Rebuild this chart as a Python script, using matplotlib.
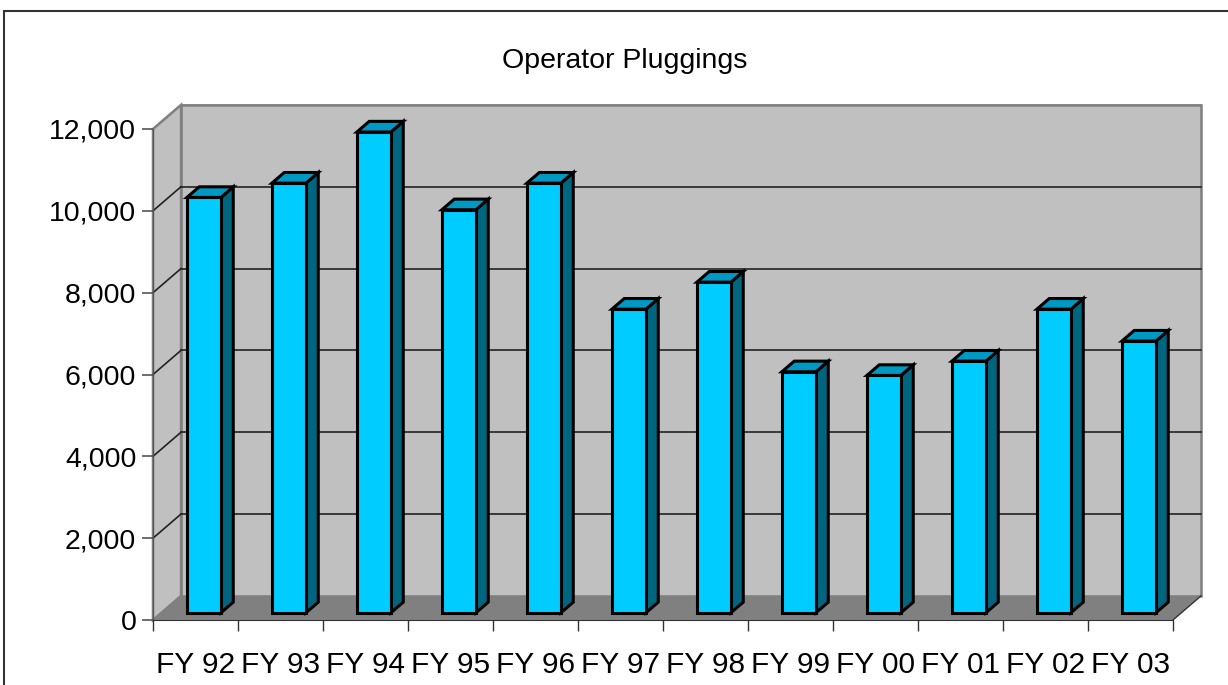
import matplotlib
matplotlib.use("Agg")
import matplotlib.pyplot as plt
from matplotlib.patches import Polygon, Rectangle

plt.rcParams['font.family'] = ['Liberation Sans', 'DejaVu Sans']

# data
categories = ['FY 92', 'FY 93', 'FY 94', 'FY 95', 'FY 96', 'FY 97',
              'FY 98', 'FY 99', 'FY 00', 'FY 01', 'FY 02', 'FY 03']
pluggings = [10150, 10500, 11750, 9850, 10500, 7420,
             8080, 5890, 5800, 6150, 7420, 6640]
y_ticks = [0, 2000, 4000, 6000, 8000, 10000, 12000]
y_max = 12000

# fake 3d depth, in data units
DX = 0.33      # category units
DY = 590.0     # value units
f0, f1 = 0.30, 0.74   # bar front / back depth
half_w = 0.2

front_col = '#00CCFF'
side_col = '#006680'
top_col = '#0099C4'
wall_col = '#C0C0C0'
floor_col = '#808080'
edge_gray = '#808080'

W, H = 1228, 685
fig = plt.figure(figsize=(W / 100, H / 100), dpi=100)
ax = fig.add_axes([153 / W, (H - 620) / H, (1173 - 153) / W, (620 - 129) / H])
n = len(categories)
x0, x1 = -0.5, n - 0.5
ax.set_xlim(x0, x1)
ax.set_ylim(0, y_max)
ax.patch.set_visible(False)

# walls and floor
back = Polygon([(x0 + DX, DY), (x1 + DX, DY), (x1 + DX, y_max + DY), (x0 + DX, y_max + DY)],
               closed=True, fc=wall_col, ec=edge_gray, lw=1.8, clip_on=False, zorder=1)
side = Polygon([(x0, 0), (x0 + DX, DY), (x0 + DX, y_max + DY), (x0, y_max)],
               closed=True, fc=wall_col, ec=edge_gray, lw=1.8, clip_on=False, zorder=1)
floor = Polygon([(x0, 0), (x1, 0), (x1 + DX, DY), (x0 + DX, DY)],
                closed=True, fc=floor_col, ec='none', clip_on=False, zorder=1.5)
for p in (back, side, floor):
    ax.add_patch(p)
ax.plot([x1, x1 + DX], [0, DY], color='#333333', lw=1, clip_on=False, zorder=1.6)

# gridlines on back and side wall
for v in y_ticks[1:]:
    c = '#222222' if v < y_max else edge_gray
    ax.plot([x0 + DX, x1 + DX], [v + DY, v + DY], color=c, lw=1.2, clip_on=False, zorder=1.2)
    ax.plot([x0, x0 + DX], [v, v + DY], color=c, lw=1.2, clip_on=False, zorder=1.2)

# bars
for i, v in enumerate(pluggings):
    l = i - half_w
    r = i + half_w
    a, b = f0 * DX, f1 * DX
    ya, yb = f0 * DY, f1 * DY
    front = Polygon([(l + a, ya), (r + a, ya), (r + a, v + ya), (l + a, v + ya)],
                    closed=True, fc=front_col, ec='black', lw=2.2, zorder=3, clip_on=False)
    rside = Polygon([(r + a, ya), (r + b, yb), (r + b, v + yb), (r + a, v + ya)],
                    closed=True, fc=side_col, ec='black', lw=2.2, zorder=3, clip_on=False)
    top = Polygon([(l + a, v + ya), (r + a, v + ya), (r + b, v + yb), (l + b, v + yb)],
                  closed=True, fc=top_col, ec='black', lw=2.2, zorder=3, clip_on=False)
    for p in (rside, top, front):
        ax.add_patch(p)

# axes
for s in ('top', 'right'):
    ax.spines[s].set_visible(False)
ax.spines['left'].set_color('#555555')
ax.spines['bottom'].set_color('#333333')
ax.spines['left'].set_zorder(4)
ax.spines['bottom'].set_zorder(4)

ax.set_yticks(y_ticks)
ax.set_yticklabels([f'{t:,}' for t in y_ticks], fontsize=20.5)
ax.tick_params(axis='y', length=8, width=1.2, color='#555555', pad=4)

ax.set_xticks([k - 0.5 for k in range(n + 1)])
ax.set_xticklabels([])
ax.tick_params(axis='x', which='major', length=8, width=1, color='#333333', direction='out')
ax.set_xticks(range(n), minor=True)
ax.set_xticklabels(categories, minor=True, fontsize=21.5)
ax.tick_params(axis='x', which='minor', length=0, pad=22)

fig.text(625 / W, (H - 61) / H, 'Operator Pluggings', fontsize=20.5, ha='center', va='center')

# outer chart border (cropped at right/bottom)
fig.add_artist(Rectangle((4 / W, -0.1), 1.2, (H - 11) / H + 0.1, transform=fig.transFigure,
                         fill=False, ec='#333333', lw=1.5))

fig.savefig('out.png', dpi=100)
